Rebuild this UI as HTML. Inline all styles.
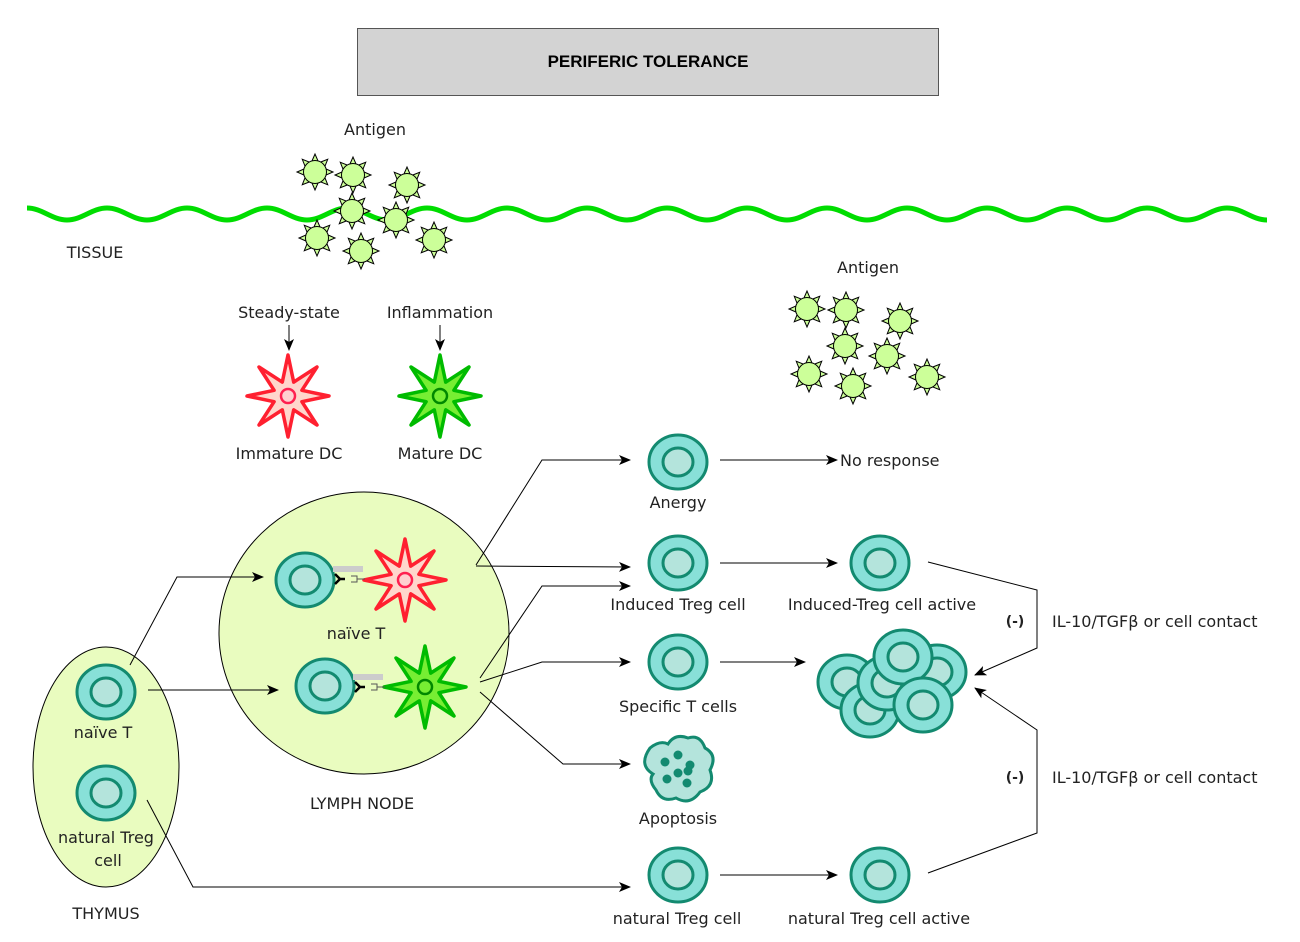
<!DOCTYPE html>
<html><head><meta charset="utf-8"><style>
body{margin:0;background:#fff;}
svg{display:block;}
text{font-family:"DejaVu Sans","Liberation Sans",sans-serif;font-size:16px;fill:#222;}
</style></head><body>
<svg id="s" width="1300" height="942" viewBox="0 0 1300 942" xmlns="http://www.w3.org/2000/svg">
<defs>
<marker id="a" markerWidth="12" markerHeight="10" refX="11" refY="5" orient="auto" markerUnits="userSpaceOnUse">
<path d="M0,0 L12,5 L0,10 L3,5 z" fill="#000"/></marker>
</defs>
<rect x="357.5" y="28.5" width="581" height="67" fill="#d3d3d3" stroke="#555"/>
<text x="648" y="67" text-anchor="middle" style="font-weight:bold;font-family:'Liberation Sans',sans-serif;font-size:17px;fill:#000">PERIFERIC TOLERANCE</text>
<path id="wave" fill="none" stroke="#00dd00" stroke-width="5"/>
<ellipse cx="364" cy="633" rx="145" ry="141" fill="#e9fcbf" stroke="#000" stroke-width="1"/>
<ellipse cx="106" cy="767" rx="73" ry="120" fill="#e9fcbf" stroke="#000" stroke-width="1"/>
<g id="ants"></g>
<g id="stars"></g>
<g id="cells"></g>
<rect x="333" y="566" width="30" height="6" fill="#ccc"/>
<rect x="353" y="674" width="30" height="6" fill="#ccc"/>
<path d="M335,574 l5,5 l-5,5 M340,579 h5" stroke="#000" stroke-width="2.5" fill="none"/>
<path d="M355,682 l5,5 l-5,5 M360,687 h5" stroke="#000" stroke-width="2.5" fill="none"/>
<path d="M351,576 h6 v6 h-6 M357,579 h8" stroke="#555" fill="none"/>
<path d="M371,684 h6 v6 h-6 M377,687 h8" stroke="#555" fill="none"/>
<path d="M650,748 Q660,740 668,744 Q675,733 688,738 Q700,734 705,748 Q718,755 710,770 Q716,786 700,792 Q690,806 676,798 Q662,803 656,790 Q648,780 653,774 Q638,765 650,748 z" fill="#b4e4dc" stroke="#138a70" stroke-width="3"/>
<g fill="#138a70"><circle cx="678" cy="755" r="4.5"/><circle cx="665" cy="762" r="4.5"/><circle cx="690" cy="765" r="4.5"/><circle cx="678" cy="773" r="4.5"/><circle cx="688" cy="771" r="4.5"/><circle cx="667" cy="779" r="4.5"/><circle cx="687" cy="783" r="4.5"/></g>
<g stroke="#000" stroke-width="1" fill="none" marker-end="url(#a)">
<path d="M130,665 L177,577 L263,577"/>
<path d="M148,690 L278,690"/>
<path d="M147,800 L193,887 L630,887"/>
<path d="M476,565 L542,460 L630,460"/>
<path d="M476,566 L630,567"/>
<path d="M480,678 L542,586 L630,586"/>
<path d="M480,682 L542,662 L630,662"/>
<path d="M480,692 L563,764 L630,764"/>
<path d="M720,460 L837,460"/>
<path d="M720,563 L837,563"/>
<path d="M720,662 L805,662"/>
<path d="M720,875 L837,875"/>
<path d="M928,562 L1037,590 L1037,648 L975,675"/>
<path d="M928,873 L1037,833 L1037,730 L975,688"/>
<path d="M289,325 L289,350"/>
<path d="M440,325 L440,350"/>
</g>
<text x="375" y="135" text-anchor="middle">Antigen</text>
<text x="868" y="273" text-anchor="middle">Antigen</text>
<text x="95" y="258" text-anchor="middle">TISSUE</text>
<text x="289" y="318" text-anchor="middle">Steady-state</text>
<text x="440" y="318" text-anchor="middle">Inflammation</text>
<text x="289" y="459" text-anchor="middle">Immature DC</text>
<text x="440" y="459" text-anchor="middle">Mature DC</text>
<text x="840" y="466">No response</text>
<text x="678" y="508" text-anchor="middle">Anergy</text>
<text x="678" y="610" text-anchor="middle">Induced Treg cell</text>
<text x="882" y="610" text-anchor="middle">Induced-Treg cell active</text>
<text x="678" y="712" text-anchor="middle">Specific T cells</text>
<text x="678" y="824" text-anchor="middle">Apoptosis</text>
<text x="677" y="924" text-anchor="middle">natural Treg cell</text>
<text x="879" y="924" text-anchor="middle">natural Treg cell active</text>
<text x="356" y="639" text-anchor="middle">naïve T</text>
<text x="103" y="738" text-anchor="middle">naïve T</text>
<text x="106" y="843" text-anchor="middle">natural Treg</text>
<text x="108" y="866" text-anchor="middle">cell</text>
<text x="106" y="919" text-anchor="middle">THYMUS</text>
<text x="362" y="809" text-anchor="middle">LYMPH NODE</text>
<text x="1015" y="626" text-anchor="middle" style="font-weight:bold;font-size:14px">(-)</text>
<text x="1015" y="782" text-anchor="middle" style="font-weight:bold;font-size:14px">(-)</text>
<text x="1052" y="627">IL-10/TGFβ or cell contact</text>
<text x="1052" y="783">IL-10/TGFβ or cell contact</text>
</svg>
<script>
var NS="http://www.w3.org/2000/svg";
function el(p,t,a){var e=document.createElementNS(NS,t);for(var k in a)e.setAttribute(k,a[k]);p.appendChild(e);return e;}
var d="M27,208";for(var x=27;x<1265;x+=40){var up=((x-27)/40)%2==0;var y0=up?208:220,y1=up?220:208;d+=" C"+(x+15)+","+y0+" "+(x+25)+","+y1+" "+(x+40)+","+y1;}
document.getElementById('wave').setAttribute('d',d);
var ants=document.getElementById('ants');
[[315,172],[353,175],[407,185],[352,211],[396,220],[317,238],[361,251],[434,240],[807,309],[846,310],[900,321],[845,346],[887,356],[809,374],[853,386],[927,377]].forEach(function(c){
 for(var i=0;i<8;i++){var a=i*Math.PI/4,b=0.3;
  var p=[[c[0]+11*Math.cos(a-b),c[1]+11*Math.sin(a-b)],[c[0]+18*Math.cos(a),c[1]+18*Math.sin(a)],[c[0]+11*Math.cos(a+b),c[1]+11*Math.sin(a+b)]];
  el(ants,'polygon',{points:p.join(' '),fill:'#ccff99',stroke:'#000','stroke-width':1});}
 el(ants,'circle',{cx:c[0],cy:c[1],r:11.5,fill:'#ccff99',stroke:'#000','stroke-width':1});
});
var st=document.getElementById('stars');
function star(cx,cy,R,r,fill,stroke,cf,cs){var p=[];for(var i=0;i<16;i++){var a=-Math.PI/2+i*Math.PI/8,rr=i%2?r:R;p.push((cx+rr*Math.cos(a)).toFixed(1)+','+(cy+rr*Math.sin(a)).toFixed(1));}
 el(st,'polygon',{points:p.join(' '),fill:fill,stroke:stroke,'stroke-width':3.5,'stroke-linejoin':'round'});
 el(st,'circle',{cx:cx,cy:cy,r:7,fill:cf,stroke:cs,'stroke-width':2.5});}
star(288,396,41,15,'#ffd6cc','#ff2030','#ffd0d0','#ff2050');
star(440,396,41,15,'#77ee33','#00bb00','#77ee33','#008800');
star(405,580,41,15,'#ffd6cc','#ff2030','#ffd0d0','#ff2050');
star(425,687,41,15,'#77ee33','#00bb00','#77ee33','#008800');
var ce=document.getElementById('cells');
function cell(cx,cy){el(ce,'ellipse',{cx:cx,cy:cy,rx:29,ry:27,fill:'#88e0d8',stroke:'#138a70','stroke-width':3});
 el(ce,'ellipse',{cx:cx,cy:cy,rx:15,ry:14,fill:'#b4e4dc',stroke:'#138a70','stroke-width':3});}
[[305,580],[325,686],[106,692],[106,793],[678,462],[678,563],[678,662],[678,875],[880,563],[880,875],
 [937,672],[847,682],[870,710],[887,683],[903,657],[923,705]].forEach(function(c){cell(c[0],c[1]);});
</script>
</body></html>
